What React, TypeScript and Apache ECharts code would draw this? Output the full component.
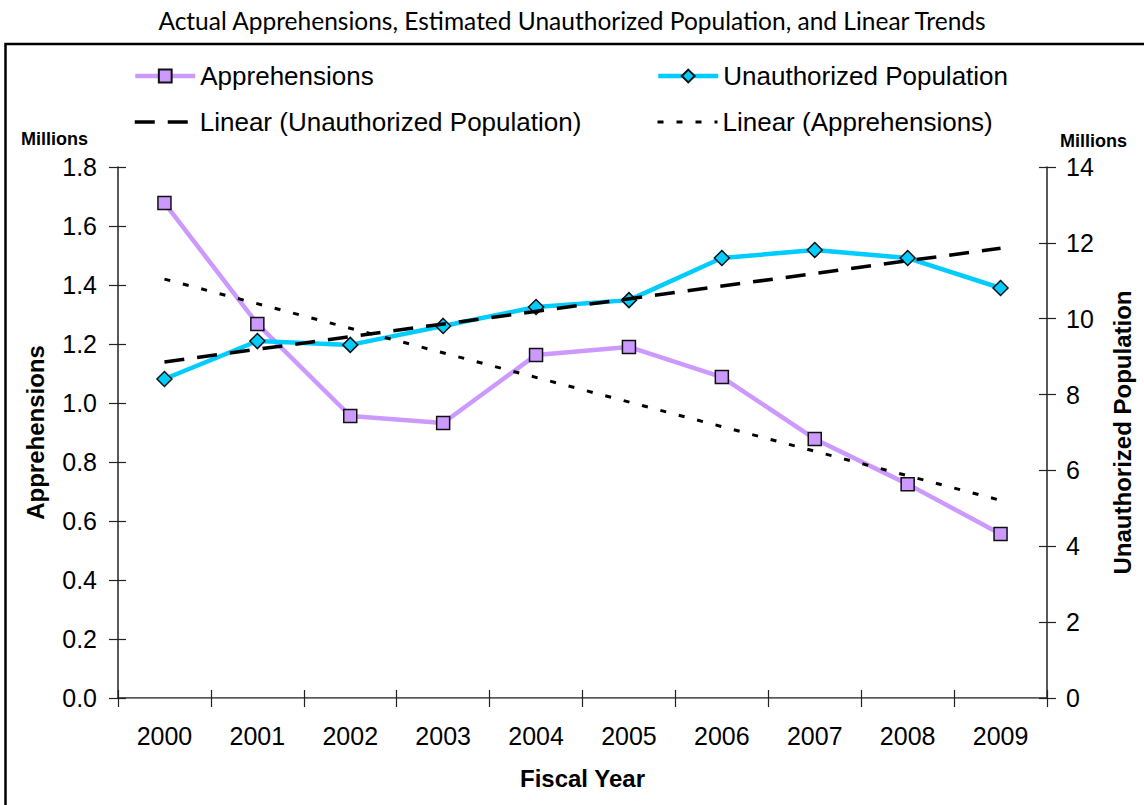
import React, { useEffect, useRef } from "react";
import * as echarts from "echarts";

const years = ["2000", "2001", "2002", "2003", "2004", "2005", "2006", "2007", "2008", "2009"];
const apprehensions = [1.678, 1.268, 0.956, 0.932, 1.163, 1.19, 1.088, 0.878, 0.725, 0.556];
const unauthorized = [8.41, 9.41, 9.31, 9.81, 10.31, 10.49, 11.6, 11.81, 11.6, 10.81];
const trendUnauthorized = [8.86, null, null, null, null, null, null, null, null, 11.86];
const trendApprehensions = [1.42, null, null, null, null, null, null, null, null, 0.67];
const leftAxis = { min: 0, max: 1.8, interval: 0.2 };
const rightAxis = { min: 0, max: 14, interval: 2 };

const titleText = "Actual Apprehensions, Estimated Unauthorized Population, and Linear Trends";
const seriesNames = [
  "Apprehensions",
  "Unauthorized Population",
  "Linear (Unauthorized Population)",
  "Linear (Apprehensions)",
];

const FONT = "'Liberation Sans', Arial, sans-serif";

export default function App() {
  const ref = useRef<HTMLDivElement>(null);
  useEffect(() => {
    if (!ref.current) return;
    const chart = echarts.init(ref.current, null, { renderer: "svg" });
    const axisColor = "#222";
    const legendBase = {
      orient: "horizontal",
      padding: 0,
      itemWidth: 60,
      itemHeight: 16,
      textStyle: { fontSize: 26, fontFamily: FONT, color: "#000", lineHeight: 30 },
      selectedMode: false,
    };
    const option: any = {
      animation: false,
      backgroundColor: "#fff",
      textStyle: { fontFamily: FONT },
      title: {
        text: titleText,
        left: "center",
        top: 3,
        textStyle: { fontFamily: "Lato, 'Open Sans', sans-serif", fontWeight: "normal", fontSize: 24.5, color: "#000" },
      },
      legend: [
        { ...legendBase, data: [seriesNames[0]], left: 133, top: 61, lineStyle: { width: 4.5 } },
        { ...legendBase, data: [seriesNames[1]], left: 656, top: 61, lineStyle: { width: 4.5 } },
        {
          ...legendBase,
          data: [seriesNames[2]],
          left: 133,
          top: 107,
          lineStyle: { width: 3.5 },
          itemStyle: { opacity: 0 },
        },
        {
          ...legendBase,
          data: [seriesNames[3]],
          left: 656,
          top: 107,
          lineStyle: { width: 3 },
          itemStyle: { opacity: 0 },
        },
      ],
      grid: { left: 118, right: 97, top: 167, bottom: 107, containLabel: false },
      graphic: [
        {
          type: "rect",
          shape: { x: 5.5, y: 44, width: 1200, height: 820 },
          style: { fill: "none", stroke: "#000", lineWidth: 2.5 },
          silent: true,
        },
        {
          type: "text",
          left: 21,
          top: 130,
          style: { text: "Millions", fontSize: 18, fontWeight: "bold", fontFamily: FONT, fill: "#000" },
        },
        {
          type: "text",
          left: 1060,
          top: 132,
          style: { text: "Millions", fontSize: 18, fontWeight: "bold", fontFamily: FONT, fill: "#000" },
        },
      ],
      xAxis: [
        {
          type: "category",
          data: years,
          position: "bottom",
          boundaryGap: true,
          axisLine: { show: true, lineStyle: { color: axisColor, width: 1.5 } },
          axisTick: { show: true, length: 9, inside: false, lineStyle: { color: axisColor, width: 1.2 } },
          axisLabel: { fontSize: 25, color: "#000", margin: 25, fontFamily: FONT },
          splitLine: { show: false },
          name: "Fiscal Year",
          nameLocation: "middle",
          nameGap: 68,
          nameTextStyle: { fontSize: 24, fontWeight: "bold", color: "#000", fontFamily: FONT },
        },
        {
          type: "category",
          data: years,
          position: "top",
          boundaryGap: true,
          axisLine: { show: true, lineStyle: { color: "#888", width: 1 } },
          axisTick: { show: false },
          axisLabel: { show: false },
          splitLine: { show: false },
        },
        {
          type: "category",
          data: years,
          position: "bottom",
          boundaryGap: true,
          axisLine: { show: false },
          axisTick: { show: true, length: 8, inside: true, lineStyle: { color: axisColor, width: 1.2 } },
          axisLabel: { show: false },
          splitLine: { show: false },
        },
      ],
      yAxis: [
        {
          type: "value",
          position: "left",
          ...leftAxis,
          axisLine: { show: true, lineStyle: { color: axisColor, width: 1.5 } },
          axisTick: { show: true, length: 9, inside: false, lineStyle: { color: axisColor, width: 1.2 } },
          axisLabel: { fontSize: 25, color: "#000", margin: 21, fontFamily: FONT, formatter: (v: number) => v.toFixed(1) },
          splitLine: { show: false },
          name: "Apprehensions",
          nameLocation: "middle",
          nameGap: 71,
          nameTextStyle: { fontSize: 24, fontWeight: "bold", color: "#000", fontFamily: FONT },
        },
        {
          type: "value",
          position: "right",
          ...rightAxis,
          axisLine: { show: true, lineStyle: { color: axisColor, width: 1.5 } },
          axisTick: { show: true, length: 9, inside: false, lineStyle: { color: axisColor, width: 1.2 } },
          axisLabel: { fontSize: 25, color: "#000", margin: 19, fontFamily: FONT },
          splitLine: { show: false },
          name: "Unauthorized Population",
          nameLocation: "middle",
          nameGap: 63,
          nameTextStyle: { fontSize: 24, fontWeight: "bold", color: "#000", fontFamily: FONT },
        },
        {
          type: "value",
          position: "left",
          ...leftAxis,
          axisLine: { show: false },
          axisTick: { show: true, length: 8, inside: true, lineStyle: { color: axisColor, width: 1.2 } },
          axisLabel: { show: false },
          splitLine: { show: false },
        },
        {
          type: "value",
          position: "right",
          ...rightAxis,
          axisLine: { show: false },
          axisTick: { show: true, length: 8, inside: true, lineStyle: { color: axisColor, width: 1.2 } },
          axisLabel: { show: false },
          splitLine: { show: false },
        },
      ],
      series: [
        {
          name: seriesNames[0],
          type: "line",
          xAxisIndex: 0,
          yAxisIndex: 0,
          data: apprehensions,
          symbol: "rect",
          symbolSize: 13,
          lineStyle: { color: "#CC99FF", width: 4.5 },
          itemStyle: { color: "#CC99FF", borderColor: "#111", borderWidth: 1.5 },
          z: 3,
        },
        {
          name: seriesNames[1],
          type: "line",
          xAxisIndex: 0,
          yAxisIndex: 1,
          data: unauthorized,
          symbol: "diamond",
          symbolSize: 15,
          lineStyle: { color: "#00CCFF", width: 4.5 },
          itemStyle: { color: "#00CCFF", borderColor: "#111", borderWidth: 1.5 },
          z: 3,
        },
        {
          name: seriesNames[2],
          type: "line",
          xAxisIndex: 0,
          yAxisIndex: 1,
          data: trendUnauthorized,
          connectNulls: true,
          symbol: "none",
          lineStyle: { color: "#000", width: 3.5, type: [20, 13] },
          itemStyle: { color: "#000" },
          z: 4,
        },
        {
          name: seriesNames[3],
          type: "line",
          xAxisIndex: 0,
          yAxisIndex: 0,
          data: trendApprehensions,
          connectNulls: true,
          symbol: "none",
          lineStyle: { color: "#000", width: 3, type: [6, 13] },
          itemStyle: { color: "#000" },
          z: 4,
        },
      ],
    };
    chart.setOption(option);
    return () => chart.dispose();
  }, []);
  return (
    <div
      ref={ref}
      style={{ position: "absolute", left: 0, top: 0, width: 1144, height: 805, background: "#fff" }}
    />
  );
}
